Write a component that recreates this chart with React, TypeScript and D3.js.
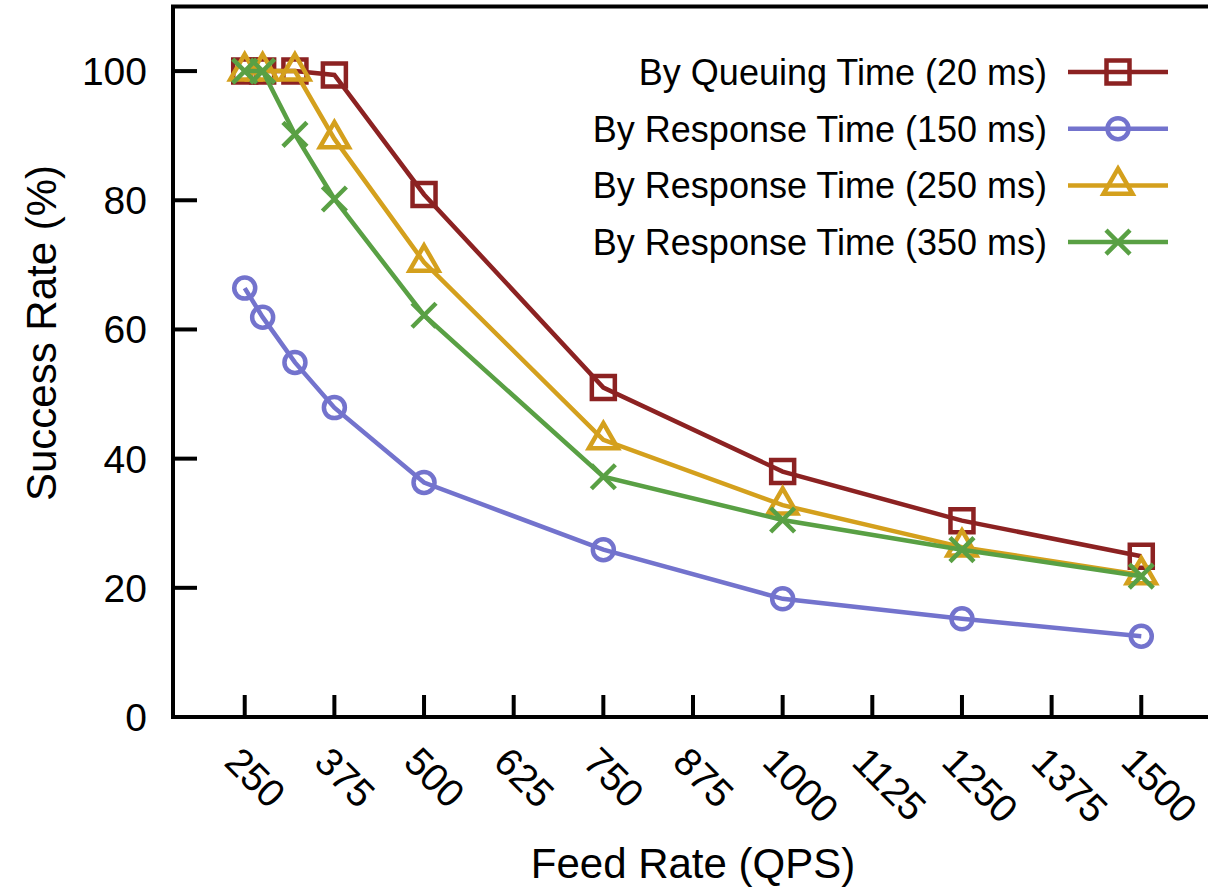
import React from 'react';
import * as d3 from 'd3';

// feed rate (QPS) at which each point was measured
const feedRates = [250, 275, 320, 375, 500, 750, 1000, 1250, 1500];

// success rate (%) per policy
const queuing20 = [100, 100, 100, 99.4, 80.9, 51.0, 38.0, 30.4, 24.9];
const response150 = [66.4, 61.9, 54.9, 47.9, 36.3, 25.9, 18.3, 15.2, 12.5];
const response250 = [100, 100, 100, 89.5, 70.4, 42.9, 32.8, 26.3, 22.0];
const response350 = [100, 100, 90.2, 80.2, 62.2, 37.2, 30.5, 25.9, 21.8];

const xTicks = [250, 375, 500, 625, 750, 875, 1000, 1125, 1250, 1375, 1500];
const yTicks = [0, 20, 40, 60, 80, 100];

const width = 1208;
const height = 889;
const font = '"Liberation Sans", Arial, Helvetica, sans-serif';

const series = [
  { name: 'By Queuing Time (20 ms)', values: queuing20, color: '#8c2222', shape: 'square' },
  { name: 'By Response Time (150 ms)', values: response150, color: '#7373cd', shape: 'circle' },
  { name: 'By Response Time (250 ms)', values: response250, color: '#d4a01d', shape: 'triangle' },
  { name: 'By Response Time (350 ms)', values: response350, color: '#59a044', shape: 'cross' },
];

const x = d3.scaleLinear().domain([150, 1600]).range([173, 1213]);
const y = d3.scaleLinear().domain([0, 110]).range([717, 6.5]);

const symbolPath = (shape: string) => {
  if (shape === 'square') return d3.symbol(d3.symbolSquare, 23 * 23)();
  if (shape === 'circle') return d3.symbol(d3.symbolCircle, Math.PI * 10.5 * 10.5)();
  if (shape === 'triangle') return d3.symbol(d3.symbolTriangle, 0.433 * 29 * 29)();
  return 'M-12,-12L12,12M-12,12L12,-12';
};

const Marker = ({ cx, cy, shape, color }: { cx: number; cy: number; shape: string; color: string }) => (
  <path
    d={symbolPath(shape) || ''}
    transform={`translate(${cx},${cy})`}
    fill="none"
    stroke={color}
    strokeWidth={4.5}
  />
);

const App = () => {
  const line = d3
    .line<number>()
    .x((d, i) => x(feedRates[i]))
    .y(d => y(d));

  const legendTop = 72;
  const legendStep = 56.7;

  return (
    <svg
      width={width}
      height={height}
      style={{ position: 'absolute', left: 0, top: 0, background: '#fff' }}
      fontFamily={font}
    >
      {/* frame */}
      <path
        d={`M${x(1600)},${y(110)}H${x(150)}V${y(0)}H${x(1600)}`}
        fill="none"
        stroke="#000"
        strokeWidth={4}
      />

      {/* y ticks */}
      {yTicks.map(t => (
        <g key={t}>
          <line x1={x(150)} x2={x(150) + 24} y1={y(t)} y2={y(t)} stroke="#000" strokeWidth={4} />
          <text x={147} y={y(t)} dy="0.36em" textAnchor="end" fontSize={39}>
            {t}
          </text>
        </g>
      ))}

      {/* x ticks */}
      {xTicks.map(t => (
        <g key={t}>
          <line x1={x(t)} x2={x(t)} y1={y(0)} y2={y(0) - 22} stroke="#000" strokeWidth={4} />
          <text
            transform={`translate(${x(t) - 22},${764}) rotate(45)`}
            textAnchor="start"
            fontSize={39}
          >
            {t}
          </text>
        </g>
      ))}

      <text x={693} y={878} textAnchor="middle" fontSize={42}>
        Feed Rate (QPS)
      </text>
      <text transform="translate(56,333) rotate(-90)" textAnchor="middle" fontSize={42}>
        Success Rate (%)
      </text>

      {/* series */}
      {series.map(s => (
        <g key={s.name}>
          <path d={line(s.values) || ''} fill="none" stroke={s.color} strokeWidth={4.5} />
          {s.values.map((v, i) => (
            <Marker key={i} cx={x(feedRates[i])} cy={y(v)} shape={s.shape} color={s.color} />
          ))}
        </g>
      ))}

      {/* legend */}
      {series.map((s, i) => {
        const ly = legendTop + i * legendStep;
        return (
          <g key={s.name}>
            <text x={1047} y={ly} dy="0.36em" textAnchor="end" fontSize={36}>
              {s.name}
            </text>
            <line x1={1068} x2={1168} y1={ly} y2={ly} stroke={s.color} strokeWidth={4.5} />
            <Marker cx={1118} cy={ly} shape={s.shape} color={s.color} />
          </g>
        );
      })}
    </svg>
  );
};

export default App;
